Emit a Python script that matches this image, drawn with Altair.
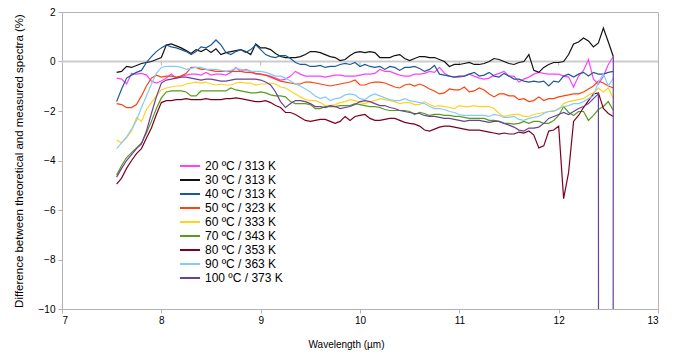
import altair as alt
import pandas as pd

# sampling grid (µm)
wavelengths = [round(7.55 + 0.05 * i, 2) for i in range(101)]

series_names = ["20 ºC / 313 K", "30 ºC / 313 K", "40 ºC / 313 K", "50 ºC / 323 K",
                "60 ºC / 333 K", "70 ºC / 343 K", "80 ºC / 353 K", "90 ºC / 363 K",
                "100 ºC / 373 K"]
colors = ["#ff40ff", "#111111", "#1c5a97", "#ff420e", "#ffd320", "#579d1c",
          "#7e0021", "#83caff", "#6a4196"]

t20 = [-0.67, -0.71, -0.91, -0.48, -0.51, -0.48, -0.55, -0.79, -0.87, -0.79,
       -0.67, -0.51, -0.67, -0.59, -0.55, -0.51, -0.51, -0.55, -0.44, -0.55,
       -0.51, -0.51, -0.55, -0.44, -0.24, -0.40, -0.32, -0.40, -0.51, -0.51,
       -0.55, -0.59, -0.67, -0.75, -0.71, -0.59, -0.40, -0.51, -0.59, -0.59,
       -0.59, -0.59, -0.63, -0.59, -0.55, -0.55, -0.59, -0.59, -0.59, -0.55,
       -0.51, -0.51, -0.48, -0.32, -0.40, -0.40, -0.48, -0.55, -0.59, -0.59,
       -0.51, -0.51, -0.48, -0.40, -0.44, -0.24, -0.48, -0.59, -0.63, -0.63,
       -0.59, -0.51, -0.59, -0.67, -0.71, -0.67, -0.55, -0.48, -0.40, -0.59,
       -0.59, -0.83, -0.71, -0.63, -0.51, -0.44, -0.48, -0.51, -0.51, -0.51,
       -0.59, -0.63, -1.03, -0.59, -0.36, 0.08, -0.71, -0.91, -0.59, -0.12,
       0.20]
t30 = [-0.44, -0.40, -0.20, -0.24, -0.16, -0.08, -0.04, 0.0, 0.08, 0.16,
       0.67, 0.71, 0.63, 0.55, 0.44, 0.32, 0.48, 0.40, 0.51, 0.36,
       0.51, 0.28, 0.36, 0.40, 0.44, 0.48, 0.40, 0.28, 0.71, 0.55,
       0.55, 0.48, 0.32, 0.20, 0.16, 0.16, 0.16, 0.20, 0.28, 0.40,
       0.40, 0.36, 0.28, 0.20, 0.16, 0.04, 0.08, 0.24, 0.36, 0.40,
       0.36, 0.40, 0.36, 0.16, 0.16, 0.16, 0.24, 0.28, 0.12, 0.04,
       0.12, 0.20, 0.20, 0.16, 0.16, 0.08, 0.0, -0.20, -0.12, -0.12,
       -0.08, -0.04, -0.12, -0.12, -0.08, 0.0, 0.12, 0.08, 0.0, -0.08,
       -0.12, -0.04, 0.0, 0.28, -0.36, -0.44, -0.24, -0.12, -0.04, -0.04,
       0.0, 0.28, 0.71, 0.79, 0.95, 0.83, 0.59, 0.75, 1.35, 0.79,
       0.20]
t40 = [-1.62, -1.11, -0.67, -0.55, -0.44, -0.36, -0.04, 0.20, 0.40, 0.55,
       0.67, 0.59, 0.55, 0.48, 0.40, 0.28, 0.40, 0.59, 0.55, 0.67,
       0.87, 0.67, 0.36, 0.28, 0.40, 0.48, 0.36, 0.48, 0.67, 0.48,
       0.28, 0.20, 0.16, 0.24, 0.24, 0.12, -0.04, -0.12, -0.12, -0.20,
       -0.20, -0.16, -0.24, -0.20, -0.20, -0.12, -0.08, -0.12, -0.04, -0.20,
       -0.12, -0.20, -0.24, -0.20, -0.32, -0.20, -0.24, -0.36, -0.24, -0.24,
       -0.20, -0.28, -0.40, -0.32, -0.16, -0.51, -0.55, -0.59, -0.63, -0.59,
       -0.59, -0.51, -0.44, -0.59, -0.55, -0.44, -0.59, -0.63, -0.48, -0.59,
       -0.71, -0.71, -0.79, -0.83, -0.79, -0.83, -0.79, -0.99, -0.79, -0.83,
       -0.59, -0.51, -0.63, -0.51, -0.44, -0.59, -0.44, -0.51, -0.51, -0.44,
       -0.40]
t50 = [-1.70, -1.74, -1.86, -1.86, -1.74, -1.39, -0.99, -0.67, -0.55, -0.63,
       -0.59, -0.59, -0.63, -0.59, -0.48, -0.24, -0.24, -0.32, -0.32, -0.36,
       -0.40, -0.40, -0.40, -0.40, -0.40, -0.40, -0.44, -0.44, -0.48, -0.51,
       -0.55, -0.63, -0.71, -0.79, -0.83, -0.87, -0.91, -0.91, -0.83, -0.83,
       -0.87, -0.91, -0.95, -0.99, -0.95, -0.91, -0.87, -0.83, -0.75, -0.95,
       -0.95, -0.87, -0.83, -0.83, -0.87, -0.95, -1.03, -1.07, -0.95, -0.91,
       -0.99, -0.91, -0.99, -1.11, -1.19, -1.31, -1.27, -1.11, -1.15, -1.15,
       -1.03, -1.23, -1.19, -1.07, -1.15, -1.31, -1.43, -1.31, -1.31, -1.39,
       -1.39, -1.54, -1.50, -1.62, -1.58, -1.43, -1.58, -1.50, -1.50, -1.43,
       -1.39, -1.35, -1.31, -1.31, -1.23, -1.11, -0.99, -0.79, -0.87, -0.99,
       -1.07]
t60 = [-3.17, -3.29, -3.09, -2.81, -2.26, -2.42, -1.94, -1.66, -1.39, -1.15,
       -1.07, -1.03, -0.99, -0.99, -0.91, -0.87, -0.83, -0.87, -0.83, -0.91,
       -0.95, -0.91, -0.95, -0.95, -0.87, -0.83, -0.87, -0.87, -0.95, -0.91,
       -0.91, -0.87, -0.91, -1.03, -1.07, -1.19, -1.31, -1.43, -1.54, -1.58,
       -1.58, -1.66, -1.78, -1.78, -1.74, -1.66, -1.62, -1.54, -1.58, -1.66,
       -1.70, -1.62, -1.58, -1.50, -1.54, -1.58, -1.62, -1.70, -1.66, -1.66,
       -1.74, -1.74, -1.62, -1.74, -1.82, -1.78, -1.82, -1.86, -1.90, -1.78,
       -1.82, -1.82, -1.78, -1.82, -1.82, -1.82, -1.90, -2.10, -2.22, -2.18,
       -2.14, -2.14, -2.22, -2.22, -2.14, -2.10, -2.06, -2.02, -1.98, -1.94,
       -1.70, -1.62, -1.58, -1.54, -1.50, -1.35, -1.27, -1.07, -1.23, -1.07,
       -1.50]
t70 = [-4.59, -4.20, -3.88, -3.68, -3.49, -3.29, -2.89, -2.42, -1.90, -1.47,
       -1.23, -1.19, -1.19, -1.19, -1.23, -1.39, -1.39, -1.19, -1.19, -1.19,
       -1.19, -1.19, -1.19, -1.07, -1.15, -1.19, -1.23, -1.27, -1.27, -1.23,
       -1.27, -1.35, -1.39, -1.39, -1.43, -1.62, -1.70, -1.70, -1.70, -1.74,
       -1.90, -1.90, -1.82, -1.82, -1.82, -1.78, -1.78, -1.78, -1.70, -1.74,
       -1.78, -1.82, -1.82, -1.86, -1.94, -1.98, -1.98, -1.98, -1.98, -2.02,
       -2.14, -2.06, -2.10, -2.18, -2.14, -2.14, -2.18, -2.18, -2.22, -2.22,
       -2.26, -2.30, -2.30, -2.30, -2.30, -2.38, -2.38, -2.42, -2.50, -2.50,
       -2.53, -2.50, -2.42, -2.50, -2.42, -2.42, -2.50, -2.50, -2.38, -2.18,
       -1.82, -2.06, -2.18, -2.02, -2.02, -2.38, -2.18, -1.94, -1.82, -1.62,
       -1.98]
t80 = [-4.95, -4.71, -4.32, -4.00, -3.72, -3.52, -3.09, -2.69, -2.14, -1.66,
       -1.58, -1.58, -1.54, -1.54, -1.50, -1.54, -1.54, -1.54, -1.50, -1.54,
       -1.54, -1.54, -1.50, -1.50, -1.47, -1.50, -1.54, -1.58, -1.62, -1.62,
       -1.58, -1.66, -1.78, -1.86, -2.06, -2.06, -2.14, -2.26, -2.38, -2.42,
       -2.38, -2.34, -2.34, -2.42, -2.50, -2.42, -2.22, -2.38, -2.22, -2.18,
       -2.14, -2.30, -2.38, -2.38, -2.34, -2.30, -2.30, -2.38, -2.46, -2.50,
       -2.53, -2.61, -2.77, -2.81, -2.73, -2.65, -2.61, -2.61, -2.65, -2.69,
       -2.73, -2.77, -2.77, -2.77, -2.81, -2.85, -2.89, -2.93, -2.89, -2.93,
       -2.93, -2.85, -2.89, -2.81, -2.97, -3.49, -3.41, -2.81, -2.77, -2.61,
       -5.54, -4.48, -2.42, -2.18, -1.86, -1.58, -1.31, -1.27, -1.90, -2.10,
       -2.22]
t90 = [-3.52, -3.29, -3.05, -2.73, -2.38, -1.86, -1.39, -0.91, -0.48, -0.24,
       -0.20, -0.20, -0.20, -0.24, -0.32, -0.28, -0.24, -0.24, -0.32, -0.32,
       -0.32, -0.36, -0.40, -0.36, -0.28, -0.32, -0.36, -0.40, -0.40, -0.40,
       -0.44, -0.51, -0.59, -0.59, -0.67, -0.79, -0.91, -0.99, -1.11, -1.23,
       -1.39, -1.50, -1.43, -1.58, -1.50, -1.47, -1.35, -1.31, -1.35, -1.50,
       -1.54, -1.39, -1.31, -1.39, -1.47, -1.54, -1.58, -1.58, -1.50, -1.58,
       -1.62, -1.66, -1.70, -1.82, -1.90, -1.90, -1.94, -2.02, -2.06, -2.14,
       -2.18, -2.18, -2.18, -2.18, -2.18, -2.22, -2.14, -2.18, -2.26, -2.26,
       -2.22, -2.34, -2.38, -2.30, -2.26, -2.22, -2.10, -2.02, -2.02, -1.90,
       -1.82, -1.78, -1.70, -1.70, -1.62, -1.50, -1.39, -0.83, -0.51, -0.99,
       -0.67]
t100 = [-4.67, -4.32, -4.00, -3.76, -3.52, -3.33, -2.81, -2.10, -1.43, -0.87,
        -0.75, -0.71, -0.67, -0.63, -0.63, -0.67, -0.71, -0.75, -0.71, -0.71,
        -0.75, -0.79, -0.79, -0.75, -0.71, -0.71, -0.71, -0.71, -0.71, -0.75,
        -0.83, -0.95, -1.23, -1.62, -1.86, -1.70, -1.58, -1.58, -1.62, -1.70,
        -1.82, -1.82, -1.86, -1.78, -1.82, -1.90, -1.86, -1.82, -1.74, -1.62,
        -1.58, -1.62, -1.70, -1.78, -1.78, -1.86, -1.90, -1.98, -2.02, -2.06,
        -2.10, -2.10, -2.18, -2.22, -2.22, -2.26, -2.30, -2.30, -2.34, -2.38,
        -2.42, -2.38, -2.38, -2.38, -2.42, -2.46, -2.42, -2.42, -2.50, -2.57,
        -2.65, -2.77, -2.81, -2.69, -2.69, -2.65, -2.50, -2.30, -2.22, -2.14,
        -2.06, -2.14, -2.02, -1.90, -1.82, -1.70, -1.50, -1.31, -400.0, -400.0,
        0.20]

x_ticks = [7, 8, 9, 10, 11, 12, 13]
y_ticks = [-10, -8, -6, -4, -2, 0, 2]
zero_line_ticks = [8, 9, 10, 11, 12]

all_series = [t20, t30, t40, t50, t60, t70, t80, t90, t100]
rows = []
for k, (name, vals) in enumerate(zip(series_names, all_series)):
    assert len(vals) == len(wavelengths), (name, len(vals))
    for w, v in zip(wavelengths, vals):
        rows.append({"wl": w, "diff": v, "series": name, "k": k})
df = pd.DataFrame(rows)

FONT = "Liberation Sans"
GRAY = "#b3b3b3"

x_enc = alt.X("wl:Q", scale=alt.Scale(domain=[7, 13], nice=False, zero=False),
              axis=alt.Axis(values=x_ticks, title="Wavelength (µm)", grid=False,
                            format="d", labelPadding=2, titlePadding=14,
                            titleX=284, titleFontSize=10))
y_enc = alt.Y("diff:Q", scale=alt.Scale(domain=[-10, 2], nice=False, zero=False),
              axis=alt.Axis(values=y_ticks, grid=False, format="d",
                            title="Difference between theoretical and measured spectra (%)",
                            labelPadding=3, titlePadding=14, titleFontSize=11.5))

zero = alt.Chart(pd.DataFrame({"z": [0]})).mark_rule(
    color="#cccccc", strokeWidth=2).encode(y=alt.Y("z:Q"))

zticks = alt.Chart(pd.DataFrame({"t": zero_line_ticks})).mark_rule(
    color=GRAY, strokeWidth=1, y2Offset=4).encode(
    x=alt.X("t:Q"), y=alt.datum(0), y2=alt.datum(0))

lines = alt.Chart(df).mark_line(clip=True, strokeWidth=1.2).encode(
    x=x_enc,
    y=y_enc,
    color=alt.Color("series:N", title=None, sort=series_names,
                    scale=alt.Scale(domain=series_names, range=colors),
                    legend=alt.Legend(orient="none", legendX=120, legendY=146,
                                      symbolType="M-1.5,0H1.5", symbolSize=178,
                                      symbolStrokeWidth=2, labelFontSize=12,
                                      labelFont=FONT, labelColor="#000000",
                                      rowPadding=0, padding=0, labelOffset=7)),
    order=alt.Order("wl:Q"),
)

chart = alt.layer(zero, zticks, lines).properties(
    width=596, height=297, autosize="none",
    padding={"left": 54, "top": 4, "right": 15, "bottom": 41},
).configure_view(stroke=GRAY, strokeWidth=1).configure_axis(
    domainColor=GRAY, tickColor=GRAY, tickSize=4, labelFont=FONT, titleFont=FONT,
    labelColor="#000000", titleColor="#000000", labelFontSize=10,
    titleFontWeight="normal",
)

chart.save("out.html", embed_options={"renderer": "svg", "actions": False})
